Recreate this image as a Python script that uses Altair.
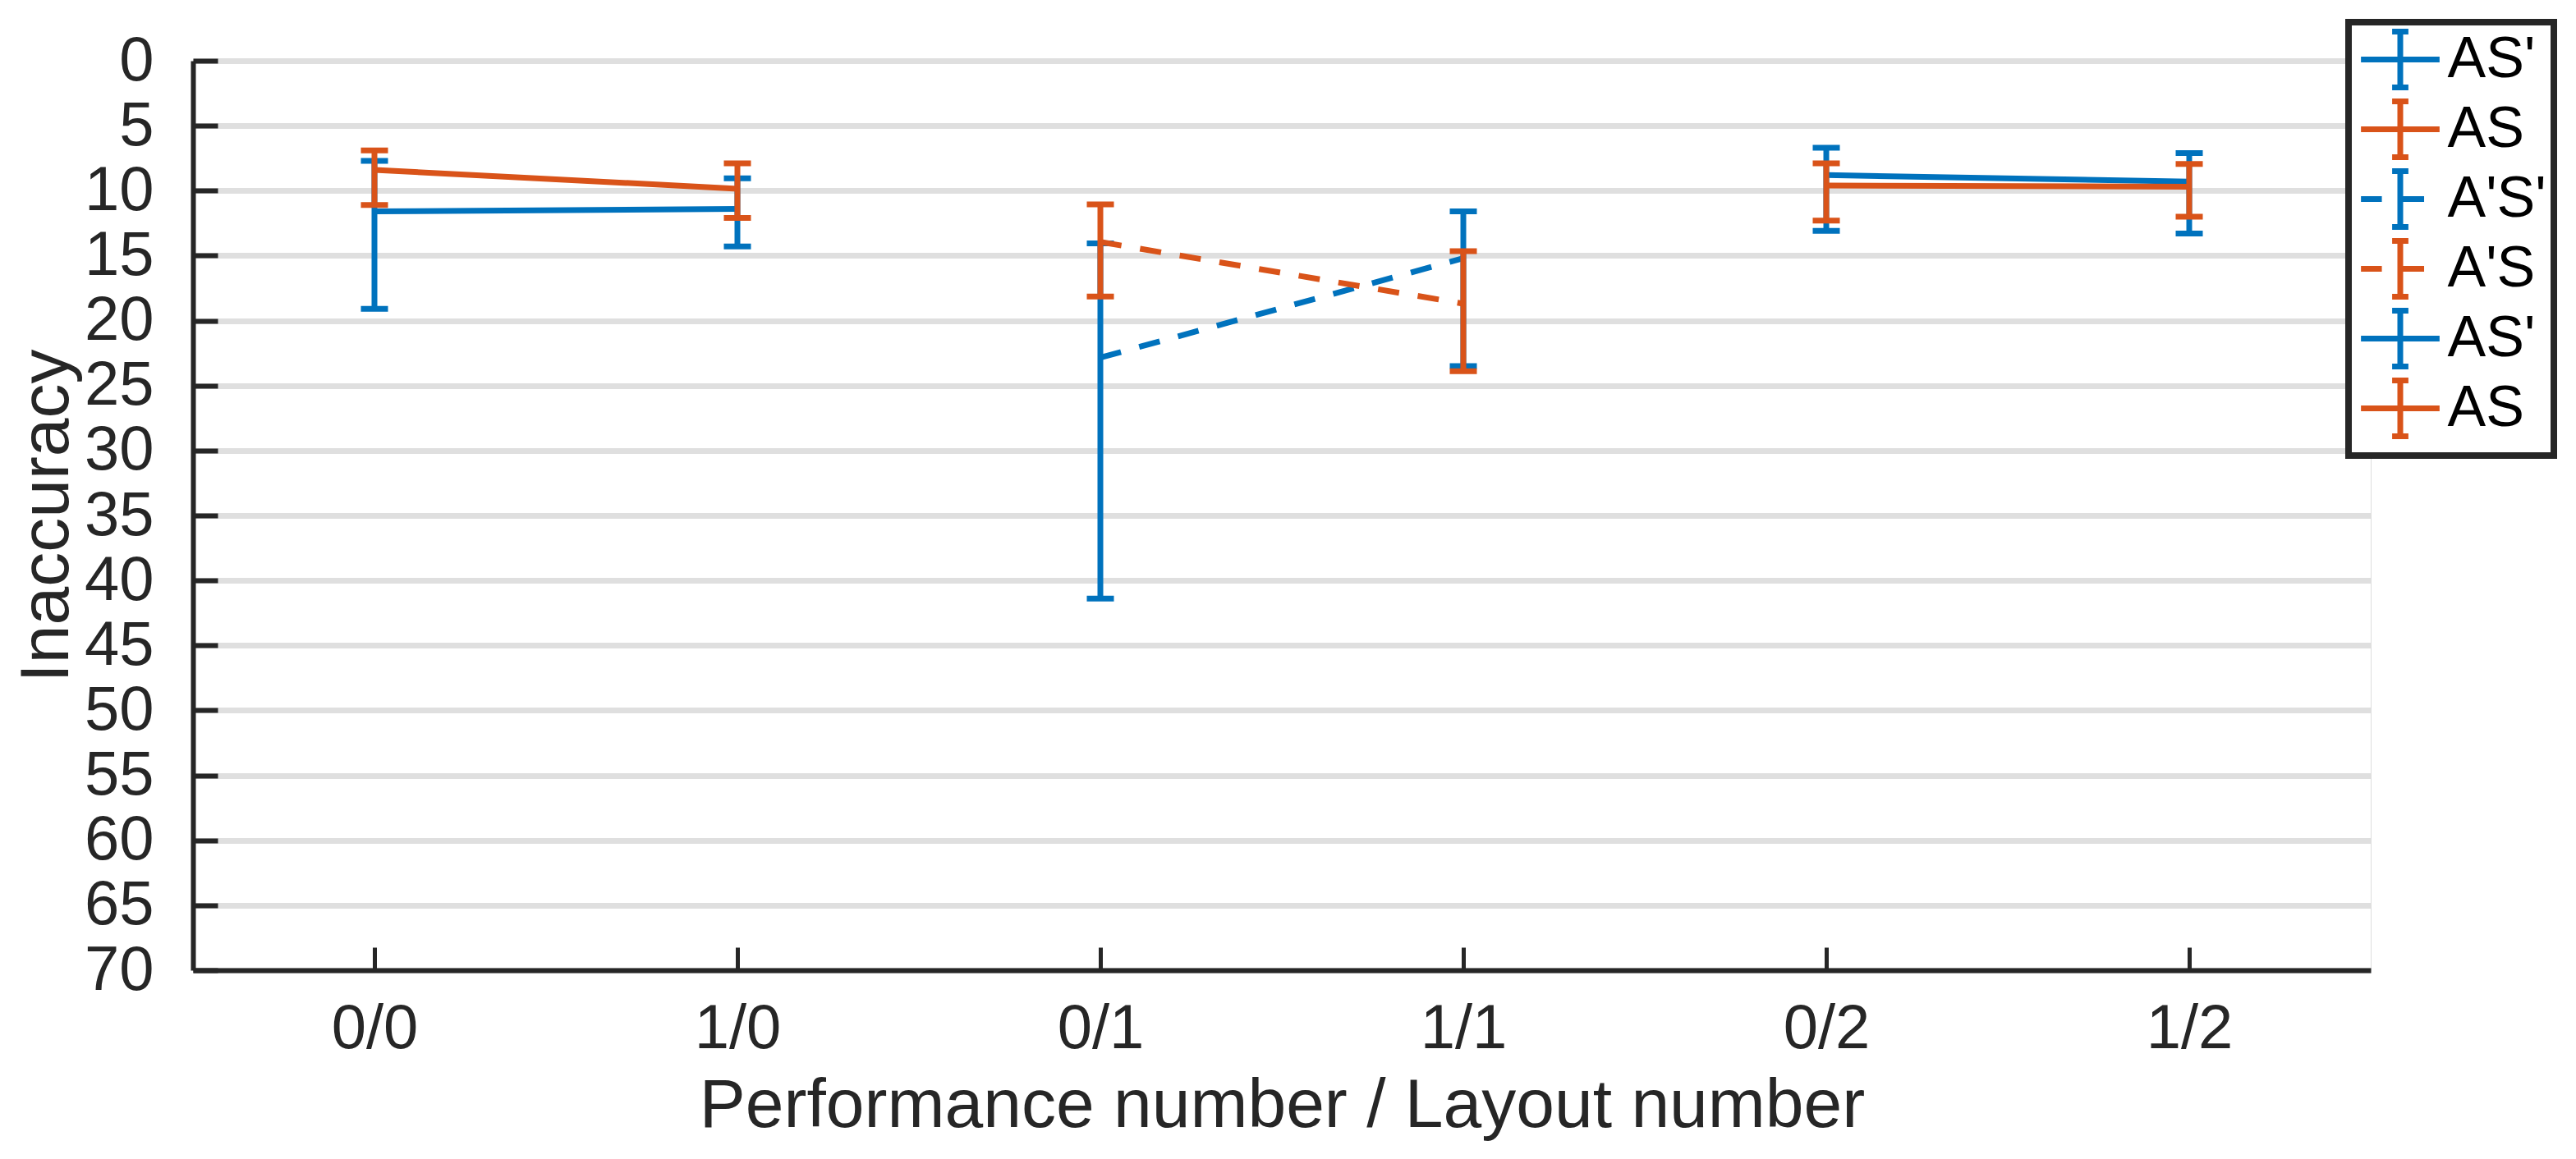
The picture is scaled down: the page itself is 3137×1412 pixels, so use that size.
import json
import altair as alt
import pandas as pd

# ---------------- data ----------------
categories = ["0/0", "1/0", "0/1", "1/1", "0/2", "1/2"]
series_keys = ["s1", "s2", "s3", "s4", "s5", "s6"]
series_labels = ["AS'", "AS", "A'S'", "A'S", "AS'", "AS"]
series_cats = [["0/0", "1/0"], ["0/0", "1/0"], ["0/1", "1/1"],
               ["0/1", "1/1"], ["0/2", "1/2"], ["0/2", "1/2"]]
series_mean = [[11.6, 11.4], [8.4, 9.85], [22.85, 15.2],
               [13.95, 18.7], [8.8, 9.3], [9.6, 9.7]]
series_lo = [[7.7, 9.05], [6.9, 7.9], [14.05, 11.6],
             [11.05, 14.65], [6.7, 7.1], [7.9, 7.95]]
series_hi = [[19.1, 14.3], [11.1, 12.1], [41.4, 23.5],
             [18.15, 23.9], [13.1, 13.3], [12.3, 12.0]]
series_dashed = [False, False, True, True, False, False]
y_ticks = [0, 5, 10, 15, 20, 25, 30, 35, 40, 45, 50, 55, 60, 65, 70]

# ---------------- style ----------------
BLUE = "#0072BD"
ORANGE = "#D95319"
series_colors = [BLUE, ORANGE, BLUE, ORANGE, BLUE, ORANGE]
AX = "#262626"
FONT = "Liberation Sans"
W, H = 2652, 1108
LW = 7

rows = []
for k, cats, m, lo, hi in zip(series_keys, series_cats, series_mean, series_lo, series_hi):
    for c, mv, lv, hv in zip(cats, m, lo, hi):
        rows.append({"key": k, "cat": c, "mean": mv, "lo": lv, "hi": hv})
df = pd.DataFrame(rows)

xscale = alt.Scale(type="point", domain=categories, padding=0.5)
yscale = alt.Scale(domain=[0, 70], reverse=True, nice=False, zero=False)

main_x_axis = alt.Axis(orient="bottom", title="Performance number / Layout number",
                       labelFontSize=76, titleFontSize=84, labelPadding=34, titlePadding=15,
                       ticks=False, tickSize=0, domainWidth=6, domainColor=AX,
                       labelColor=AX, titleColor=AX, grid=False, labelAngle=0,
                       titleFontWeight="normal", labelFont=FONT, titleFont=FONT)
main_y_axis = alt.Axis(orient="left", values=y_ticks, title="Inaccuracy",
                       labelFontSize=76, titleFontSize=84, labelPadding=48, titlePadding=2,
                       ticks=False, tickSize=0, domainWidth=6, domainColor=AX,
                       labelColor=AX, titleColor=AX, grid=True, gridColor="#dfdfdf",
                       gridWidth=7, titleFontWeight="normal", labelOverlap=False,
                       labelFont=FONT, titleFont=FONT)
tick_x_axis = alt.Axis(orient="top", offset=-H, labels=False, domain=False, grid=False,
                       ticks=True, tickSize=28, tickWidth=5, tickColor=AX, title=None)
tick_y_axis = alt.Axis(orient="right", offset=-W, values=y_ticks, labels=False, domain=False,
                       grid=False, ticks=True, tickSize=30, tickWidth=6, tickColor=AX, title=None)

base = alt.Chart(df)


def family(color, main_axes=False, tick_axes=False):
    keys = [k for k, c in zip(series_keys, series_colors) if c == color]
    solid = [k for k, c, d in zip(series_keys, series_colors, series_dashed) if c == color and not d]
    dashed = [k for k, c, d in zip(series_keys, series_colors, series_dashed) if c == color and d]
    if main_axes:
        xa, ya = main_x_axis, main_y_axis
    else:
        xa, ya = None, None
    rule = base.transform_filter(alt.FieldOneOfPredicate(field="key", oneOf=keys)).mark_rule(
        color=color, strokeWidth=LW).encode(
        x=alt.X("cat:N", scale=xscale, axis=xa),
        y=alt.Y("lo:Q", scale=yscale, axis=ya),
        y2="hi:Q")
    txa = tick_x_axis if tick_axes else None
    tya = tick_y_axis if tick_axes else None
    cap_lo = base.transform_filter(alt.FieldOneOfPredicate(field="key", oneOf=keys)).mark_tick(
        color=color, size=33, thickness=LW, opacity=1).encode(
        x=alt.X("cat:N", scale=xscale, axis=txa),
        y=alt.Y("lo:Q", scale=yscale, axis=tya))
    cap_hi = base.transform_filter(alt.FieldOneOfPredicate(field="key", oneOf=keys)).mark_tick(
        color=color, size=33, thickness=LW, opacity=1).encode(
        x=alt.X("cat:N", scale=xscale, axis=None),
        y=alt.Y("hi:Q", scale=yscale, axis=None))
    line_s = base.transform_filter(alt.FieldOneOfPredicate(field="key", oneOf=solid)).mark_line(
        color=color, strokeWidth=LW).encode(
        x=alt.X("cat:N", scale=xscale, axis=None, sort=categories),
        y=alt.Y("mean:Q", scale=yscale, axis=None),
        detail="key:N")
    line_d = base.transform_filter(alt.FieldOneOfPredicate(field="key", oneOf=dashed)).mark_line(
        color=color, strokeWidth=LW, strokeDash=[26, 23]).encode(
        x=alt.X("cat:N", scale=xscale, axis=None, sort=categories),
        y=alt.Y("mean:Q", scale=yscale, axis=None),
        detail="key:N")
    return [rule, cap_lo, cap_hi, line_s, line_d]


# legend symbols: error-bar glyphs (unit coordinates)
SOLID_GLYPH = "M-1.45,0L1.45,0M0,-1.03L0,1.03M-0.3,-1.03L0.3,-1.03M-0.3,1.03L0.3,1.03"
DASH_GLYPH = "M-1.45,0L-0.68,0M0.06,0L0.88,0M0,-1.03L0,1.03M-0.3,-1.03L0.3,-1.03M-0.3,1.03L0.3,1.03"
glyphs = [DASH_GLYPH if d else SOLID_GLYPH for d in series_dashed]

label_expr = f"{json.dumps(series_labels)}[indexof({json.dumps(series_keys)}, datum.value)]"

legend = alt.Legend(title=None, orient="none", legendX=2625, legendY=-47,
                    labelExpr=label_expr, labelFontSize=70, labelFont=FONT, labelColor="black",
                    labelLimit=1000, symbolSize=4356, symbolStrokeWidth=LW, symbolOpacity=1,
                    symbolFillColor="transparent", symbolOffset=17.5, labelOffset=21,
                    rowPadding=-14.8, padding=9, strokeColor=AX, fillColor="white")

legend_layer = base.transform_filter("false").mark_point(filled=False, strokeWidth=LW, opacity=1).encode(
    x=alt.X("cat:N", scale=xscale, axis=None),
    y=alt.Y("mean:Q", scale=yscale, axis=None),
    color=alt.Color("key:N", scale=alt.Scale(domain=series_keys, range=series_colors), legend=legend),
    shape=alt.Shape("key:N", scale=alt.Scale(domain=series_keys, range=glyphs), legend=legend),
)

layers = family(BLUE, main_axes=True, tick_axes=True) + family(ORANGE) + [legend_layer]

chart = alt.layer(*layers).resolve_axis(x="independent", y="independent").properties(
    width=W, height=H,
    autosize=alt.AutoSizeParams(type="none"),
    padding={"left": 227, "top": 66, "right": 230, "bottom": 210},
    background="white",
).configure_view(stroke=None).configure(font=FONT).configure_legend(strokeWidth=8)

chart.save("out.html", embed_options={"renderer": "svg", "actions": False})
